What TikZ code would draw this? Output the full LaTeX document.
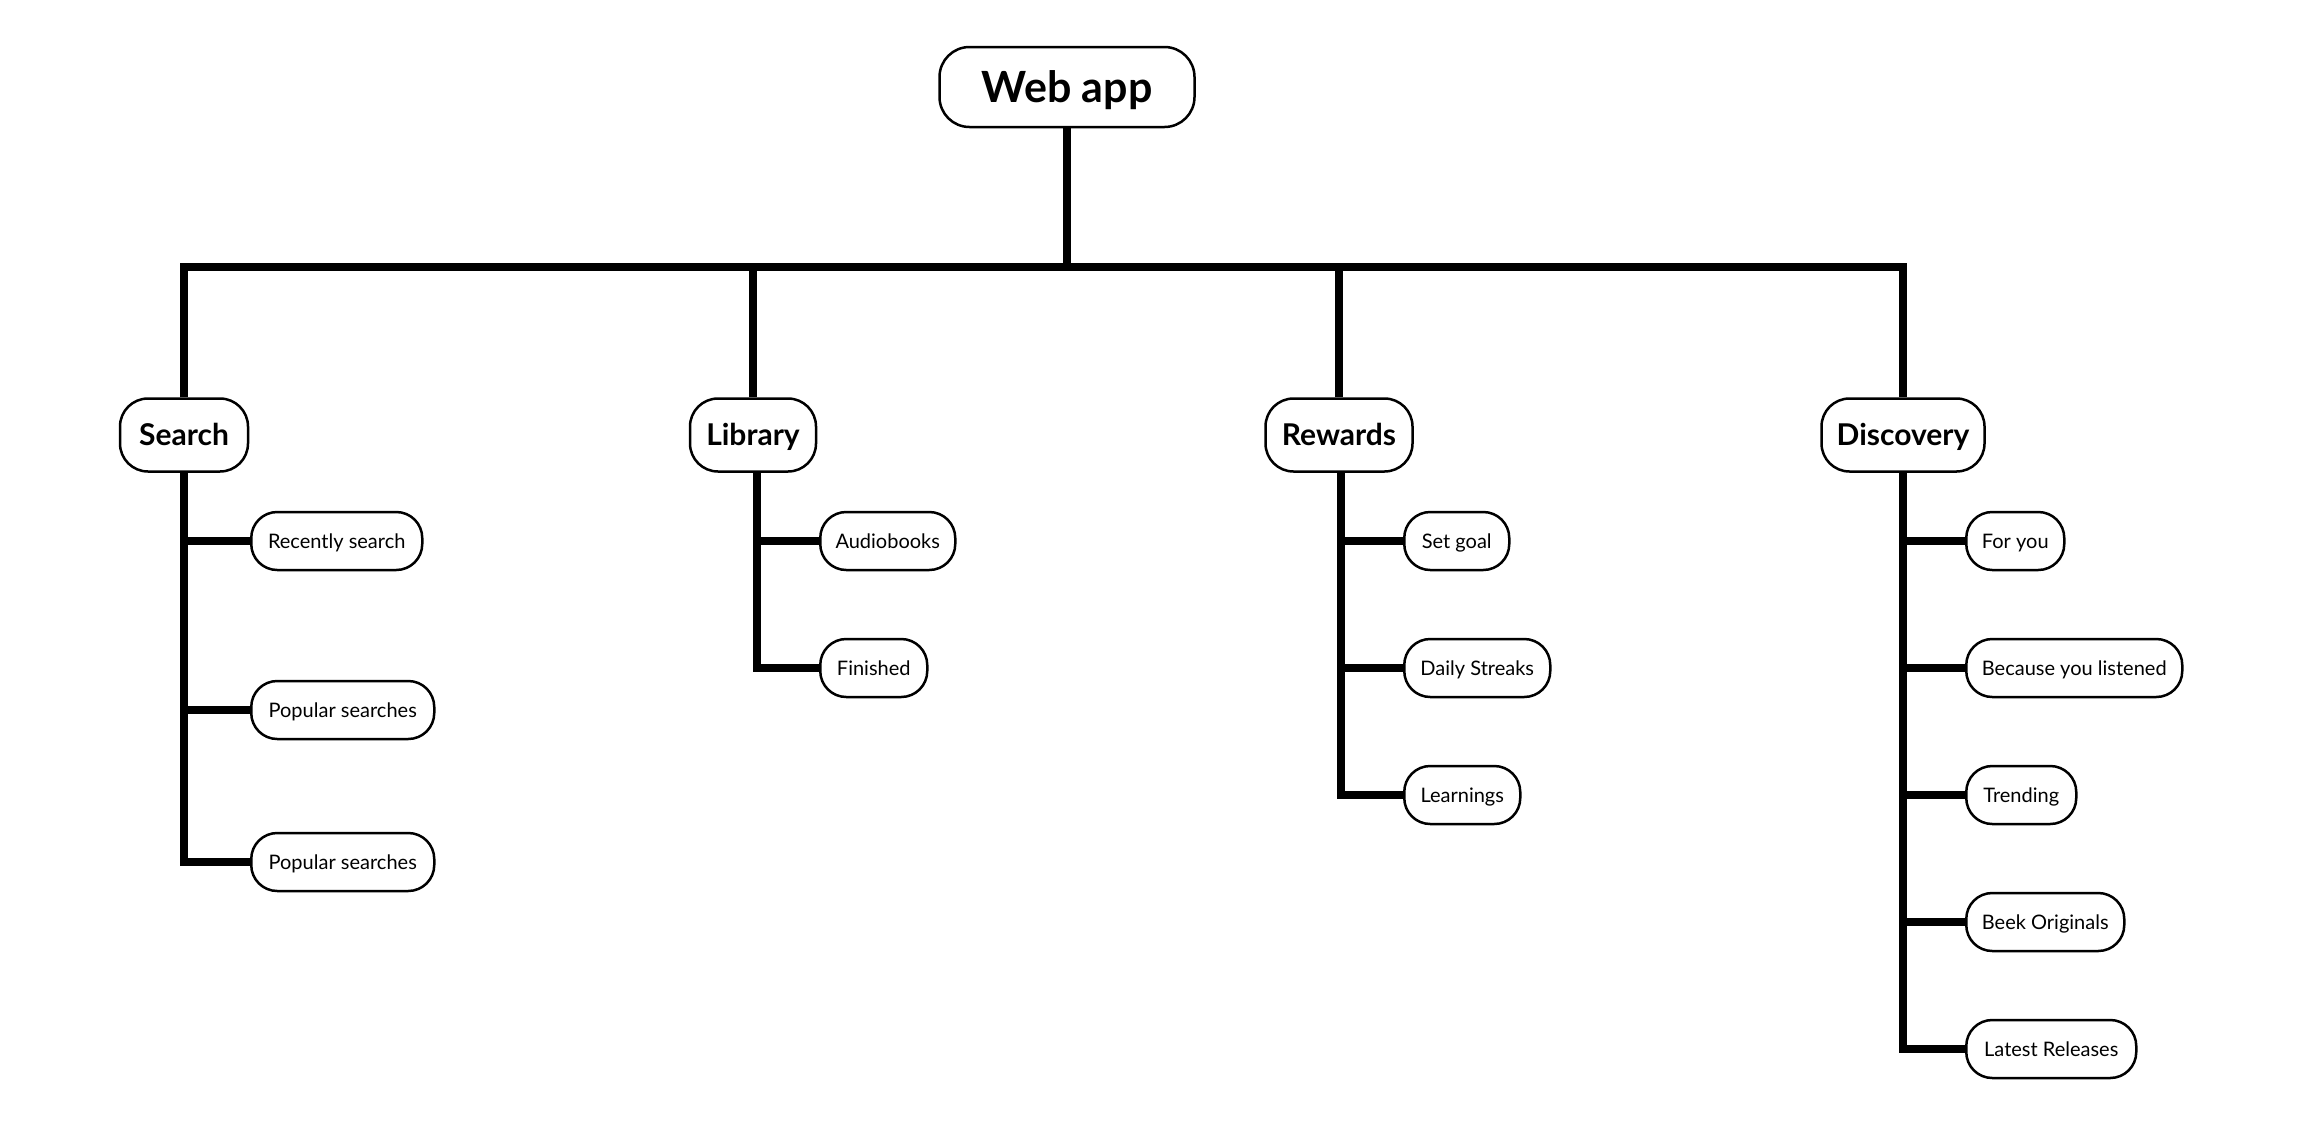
\documentclass[tikz,border=0pt]{standalone}
\usepackage{fontspec}
\setmainfont{Lato}
\begin{document}
\begin{tikzpicture}[x=1pt,y=-1pt,
  box/.style={draw=black, line width=2.5pt, fill=white, inner sep=0pt, align=center, text depth=0pt},
  topbox/.style={box, minimum height=80pt, rounded corners=30pt, text height=31pt, font=\fontsize{43}{50}\selectfont\bfseries},
  catbox/.style={box, minimum height=73pt, rounded corners=28pt, text height=21.6pt, font=\fontsize{30}{35}\selectfont\bfseries},
  leaf/.style={box, anchor=west, minimum height=58pt, rounded corners=26pt, text height=14.4pt, font=\fontsize{20}{24}\selectfont},
  conn/.style={line width=8pt, line join=miter, line cap=butt}]
\useasboundingbox (0,0) rectangle (2301,1125);
% nodes
\node[topbox, minimum width=255pt] (web) at (1067,87) {Web app};
\node[catbox, minimum width=128pt] (search) at (184,435) {Search};
\node[catbox, minimum width=126pt] (library) at (753,435) {Library};
\node[catbox, minimum width=147pt] (rewards) at (1339,435) {Rewards};
\node[catbox, minimum width=163pt] (discovery) at (1903,435) {Discovery};
\coordinate (hub) at (1067,267);
% search leaves
\node[leaf, minimum width=171pt] (s1) at (250,541) {Recently search};
\node[leaf, minimum width=183pt] (s2) at (250,710) {Popular searches};
\node[leaf, minimum width=183pt] (s3) at (250,862) {Popular searches};
% library leaves
\node[leaf, minimum width=135pt] (l1) at (819,541) {Audiobooks};
\node[leaf, minimum width=107pt] (l2) at (819,668) {Finished};
% rewards leaves
\node[leaf, minimum width=105pt] (r1) at (1403,541) {Set goal};
\node[leaf, minimum width=146pt] (r2) at (1403,668) {Daily Streaks};
\node[leaf, minimum width=116pt] (r3) at (1403,795) {Learnings};
% discovery leaves
\node[leaf, minimum width=98pt] (d1) at (1965,541) {For you};
\node[leaf, minimum width=216pt] (d2) at (1965,668) {Because you listened};
\node[leaf, minimum width=110pt] (d3) at (1965,795) {Trending};
\node[leaf, minimum width=158pt] (d4) at (1965,922) {Beek Originals};
\node[leaf, minimum width=170pt] (d5) at (1965,1049) {Latest Releases};
% top connectors
\draw[conn] (web.south) -- (hub);
\draw[conn] (search.north) |- (hub) -| (discovery.north);
\draw[conn] (library.north) -- (library.north |- hub);
\draw[conn] (rewards.north) -- (rewards.north |- hub);
% search
\draw[conn] (search.south) |- (s3.west);
\draw[conn] (search.south |- s1.west) -- (s1.west);
\draw[conn] (search.south |- s2.west) -- (s2.west);
% library
\coordinate (lv) at ([xshift=4pt]library.south);
\draw[conn] (lv) |- (l2.west);
\draw[conn] (lv |- l1.west) -- (l1.west);
% rewards
\coordinate (rv) at ([xshift=2pt]rewards.south);
\draw[conn] (rv) |- (r3.west);
\draw[conn] (rv |- r1.west) -- (r1.west);
\draw[conn] (rv |- r2.west) -- (r2.west);
% discovery
\draw[conn] (discovery.south) |- (d5.west);
\draw[conn] (discovery.south |- d1.west) -- (d1.west);
\draw[conn] (discovery.south |- d2.west) -- (d2.west);
\draw[conn] (discovery.south |- d3.west) -- (d3.west);
\draw[conn] (discovery.south |- d4.west) -- (d4.west);
\end{tikzpicture}
\end{document}
